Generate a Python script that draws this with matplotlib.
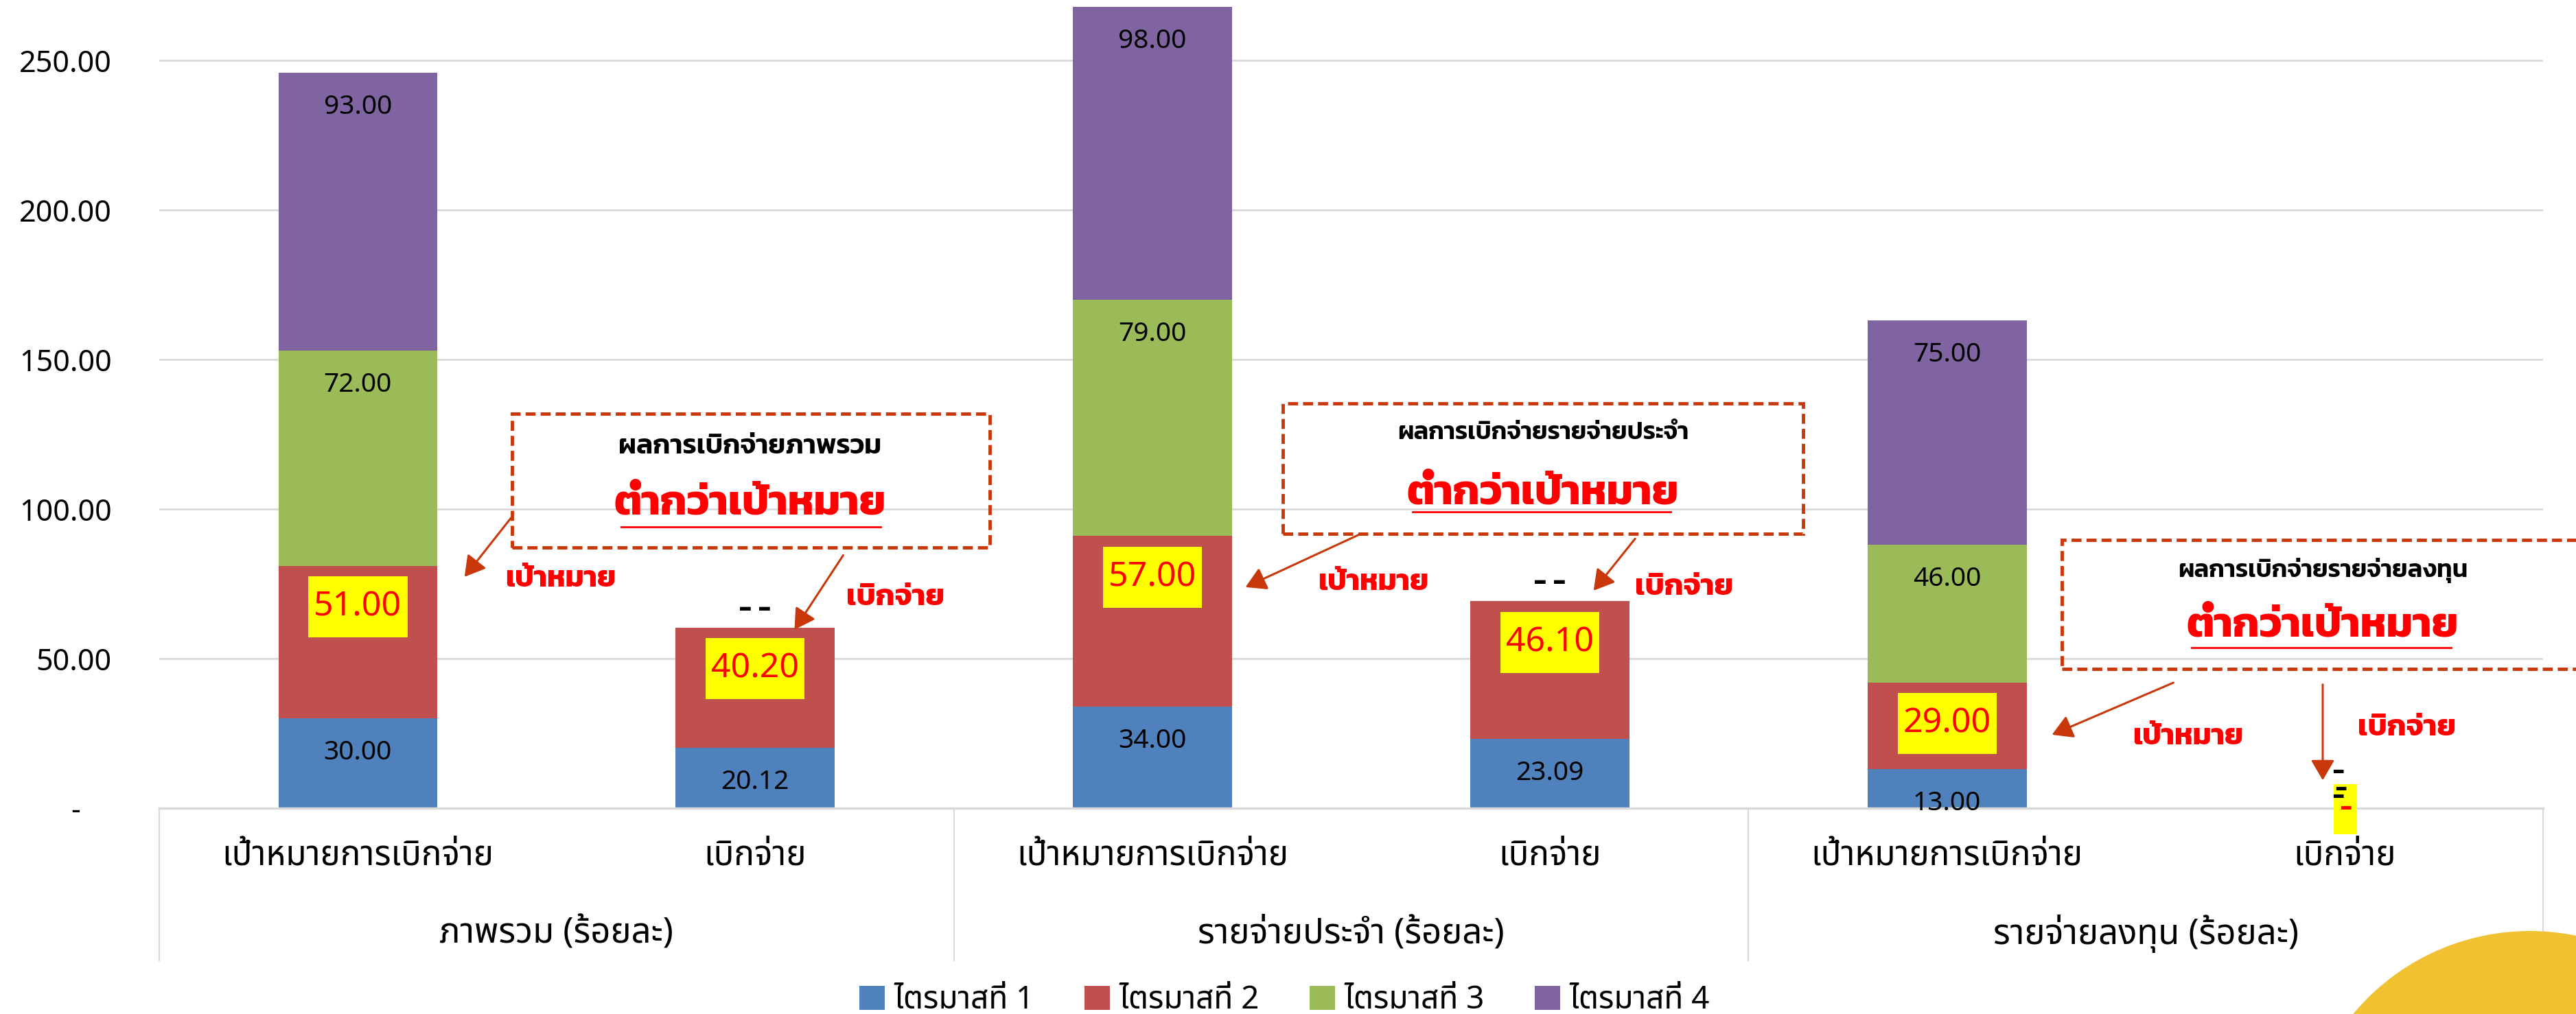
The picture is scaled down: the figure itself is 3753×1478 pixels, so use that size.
import matplotlib
matplotlib.use("Agg")
import matplotlib.pyplot as plt
from matplotlib.patches import Rectangle, Circle, Patch, FancyArrowPatch
from matplotlib.lines import Line2D
from matplotlib.path import Path

THAI = ['Noto Sans Thai', 'Kanit', 'DejaVu Sans']
THAI_BOLD = ['Kanit', 'Noto Sans Thai', 'DejaVu Sans']
plt.rcParams['font.family'] = THAI

# data
groups = ["ภาพรวม (ร้อยละ)", "รายจ่ายประจำ (ร้อยละ)", "รายจ่ายลงทุน (ร้อยละ)"]
sub_labels = ["เป้าหมายการเบิกจ่าย", "เบิกจ่าย"] * 3
series = ["ไตรมาสที่ 1", "ไตรมาสที่ 2", "ไตรมาสที่ 3", "ไตรมาสที่ 4"]
q1 = [30.00, 20.12, 34.00, 23.09, 13.00, 0]
q2 = [51.00, 40.20, 57.00, 46.10, 29.00, 0]
q3 = [72.00, 0, 79.00, 0, 46.00, 0]
q4 = [93.00, 0, 98.00, 0, 75.00, 0]
colors = ["#4F81BD", "#C0504D", "#9BBB59", "#8064A2"]

W, H = 3753, 1478
fig = plt.figure(figsize=(W / 100, H / 100), dpi=100)


def fx(x):
    return x / W


def fy(y):
    return 1 - y / H


def box_style(padx, pady):
    # rectangle with different padding left/right and top/bottom
    def style(x0, y0, width, height, mutation_size):
        px, py = padx * mutation_size, pady * mutation_size
        x0, y0 = x0 - px, y0 - py
        x1, y1 = x0 + width + 2 * px, y0 + height + 2 * py
        return Path([(x0, y0), (x1, y0), (x1, y1), (x0, y1), (x0, y0)], closed=True)
    return style


# decoration circle bottom right
fig.patches.append(Circle((36.86, -2.14), 3.35, transform=fig.dpi_scale_trans,
                          facecolor="#F0C232", edgecolor="none", zorder=0))

ax = fig.add_axes([fx(232), fy(1178), fx(3705 - 232), 1177 / H])
ax.set_xlim(-0.5, 5.5)
ax.set_ylim(0, 270)

x = range(6)
bottom = [0] * 6
for vals, col in zip([q1, q2, q3, q4], colors):
    ax.bar(x, vals, 0.4, bottom=bottom, color=col, zorder=2)
    bottom = [b + v for b, v in zip(bottom, vals)]

# data labels (inside end)
bottom = [0] * 6
for si, vals in enumerate([q1, q2, q3, q4]):
    for i, v in enumerate(vals):
        top = bottom[i] + v
        if v == 0:
            if i == 5:
                offs = {0: (-7, 37), 2: (-4, 19), 3: (-7, 11)}
                if si == 1:
                    ax.annotate("-", (i, 0), xytext=(1, -1), textcoords="offset points",
                                ha="center", va="center", fontsize=26, color="red",
                                family=THAI_BOLD, fontweight="bold", zorder=5,
                                bbox=dict(boxstyle=box_style(0.25, 0.55), fc="yellow", ec="none"))
                else:
                    ax.annotate("-", (i, 0), xytext=offs[si], textcoords="offset points",
                                ha="center", va="center", fontsize=26, color="black",
                                family=THAI_BOLD, fontweight="bold", zorder=6)
            else:
                dx = -10 if si == 2 else 10
                ax.annotate("-", (i, top), xytext=(dx, 19), textcoords="offset points",
                            ha="center", va="center", fontsize=28, family=THAI_BOLD,
                            fontweight="bold", zorder=5)
            continue
        if si == 1:
            ax.annotate(f"{v:.2f}", (i, top), xytext=(0, -43), textcoords="offset points",
                        ha="center", va="center", fontsize=36, color="red", zorder=5,
                        bbox=dict(boxstyle=box_style(0.16, 0.39), fc="yellow", ec="none"))
        else:
            ax.annotate(f"{v:.2f}", (i, top), xytext=(0, -36), textcoords="offset points",
                        ha="center", va="center", fontsize=28, color="black", zorder=5)
    bottom = [b + v for b, v in zip(bottom, vals)]

# axes styling
ax.set_yticks([0, 50, 100, 150, 200, 250])
ax.set_yticklabels(["-    " if t == 0 else f"{t:.2f}" for t in [0, 50, 100, 150, 200, 250]])
ax.tick_params(axis="y", length=0, pad=50, labelsize=31)
ax.set_xticks([])
ax.grid(axis="y", color="#D9D9D9", linewidth=2, zorder=0)
for s in ["top", "right", "left"]:
    ax.spines[s].set_visible(False)
ax.spines["bottom"].set_color("#D9D9D9")
ax.spines["bottom"].set_linewidth(2.5)

# multi level category axis
for xb in [-0.5, 1.5, 3.5, 5.5]:
    ax.add_line(Line2D([xb, xb], [0, -51], color="#D9D9D9", linewidth=1.5, clip_on=False))
for i, lab in enumerate(sub_labels):
    ax.text(i, -16, lab, ha="center", va="center", fontsize=35.5, clip_on=False)
for g, lab in enumerate(groups):
    ax.text(2 * g + 0.5, -42, lab, ha="center", va="center", fontsize=36.5, clip_on=False)

# legend
handles = [Patch(facecolor=c, label=s) for c, s in zip(colors, series)]
fig.legend(handles=handles, loc="center", bbox_to_anchor=(0.4987, fy(1458)), ncol=4,
           frameon=False, fontsize=33, handlelength=0.8, handleheight=0.8,
           columnspacing=1.6, handletextpad=0.3)

# callout boxes
RED_DARK = "#C9380A"
boxes = [
    (746, 603, 1442, 798, "ผลการเบิกจ่ายภาพรวม", 29, (1093, 652), (1093, 736), (905, 1283, 768)),
    (1869, 588, 2627, 778, "ผลการเบิกจ่ายรายจ่ายประจำ", 26, (2248, 632), (2248, 721), (2058, 2434, 746)),
    (3004, 787, 3770, 975, "ผลการเบิกจ่ายรายจ่ายลงทุน", 26, (3384, 832), (3384, 914), (3193, 3571, 944)),
]
for x0, y0, x1, y1, title, tsize, p1, p2, ul in boxes:
    fig.patches.append(Rectangle((fx(x0), fy(y1)), fx(x1 - x0), (y1 - y0) / H,
                                 transform=fig.transFigure, fill=False, edgecolor=RED_DARK,
                                 linewidth=3.5, linestyle=(0, (3, 1.5)), zorder=10))
    fig.text(fx(p1[0]), fy(p1[1]), title, ha="center", va="center", fontsize=tsize,
             family=THAI_BOLD, fontweight="semibold", zorder=11)
    fig.text(fx(p2[0]), fy(p2[1]), "ต่ำกว่าเป้าหมาย", ha="center", va="center", fontsize=44,
             family=THAI_BOLD, fontweight="bold", color="#FF0000", zorder=11)
    fig.add_artist(Line2D([fx(ul[0]), fx(ul[1])], [fy(ul[2]), fy(ul[2])], color="#FF0000",
                          linewidth=2, transform=fig.transFigure, zorder=11))

arrows = [
    ((746, 753), (675, 843)),
    ((1230, 807), (1156, 920)),
    ((1985, 777), (1812, 857)),
    ((2384, 783), (2320, 863)),
    ((3169, 994), (2987, 1072)),
    ((3384, 995), (3384, 1140)),
]
for (xa, ya), (xb, yb) in arrows:
    fig.add_artist(FancyArrowPatch((fx(xa), fy(ya)), (fx(xb), fy(yb)), transform=fig.transFigure,
                                   arrowstyle="-|>,head_length=12,head_width=7", mutation_scale=1.5,
                                   color=RED_DARK, linewidth=2.2, zorder=12))

for xt, yt in [(817, 845), (2001, 850), (3188, 1075)]:
    fig.text(fx(xt), fy(yt), "เป้าหมาย", ha="center", va="center", fontsize=31,
             family=THAI_BOLD, fontweight="bold", color="#FF0000", zorder=11)
for xt, yt in [(1305, 872), (2454, 857), (3507, 1062)]:
    fig.text(fx(xt), fy(yt), "เบิกจ่าย", ha="center", va="center", fontsize=31.5,
             family=THAI_BOLD, fontweight="bold", color="#FF0000", zorder=11)

fig.savefig("out.png", dpi=100)
